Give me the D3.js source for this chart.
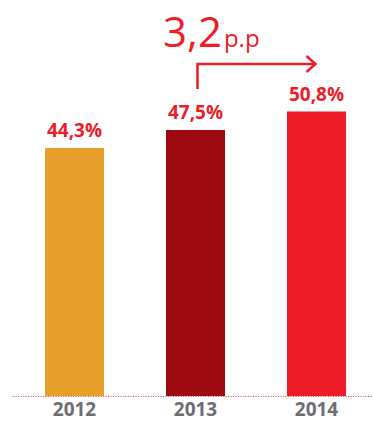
<!DOCTYPE html>
<html>
<head>
<meta charset="utf-8">
<script src="https://cdn.jsdelivr.net/npm/d3@7"></script>
<style>
  html, body { margin: 0; padding: 0; background: #fff; }
  svg { display: block; }
</style>
</head>
<body>
<svg id="chart" width="374" height="421"></svg>
<script>
// Share by year
const years = ["2012", "2013", "2014"];
const values = [44.3, 47.5, 50.8];
const valueLabels = ["44,3%", "47,5%", "50,8%"];
const barColors = ["#e59f2a", "#9d0a12", "#ed1c26"];
const changeLabel = "3,2";
const changeUnit = "p.p";

const red = "#ed1c26";
const font = "'Open Sans', 'DejaVu Sans', sans-serif";

const svg = d3.select("#chart");
const baseY = 396;

const x = d3.scaleBand()
  .domain(years)
  .range([14, 377])
  .paddingInner(0.512)
  .paddingOuter(0.256);

const y = d3.scaleLinear()
  .domain([0, 50.8])
  .range([baseY, baseY - 284.5]);

// Bars
svg.selectAll("rect.bar")
  .data(years)
  .join("rect")
  .attr("class", "bar")
  .attr("x", d => x(d))
  .attr("width", x.bandwidth())
  .attr("y", (d, i) => y(values[i]))
  .attr("height", (d, i) => baseY - y(values[i]))
  .attr("fill", (d, i) => barColors[i]);

// Value labels
svg.selectAll("text.value")
  .data(years)
  .join("text")
  .attr("class", "value")
  .attr("x", d => x(d) + x.bandwidth() / 2)
  .attr("y", (d, i) => y(values[i]) - 11)
  .attr("text-anchor", "middle")
  .attr("font-family", font)
  .attr("font-weight", 700)
  .attr("font-size", 19)
  .attr("fill", red)
  .text((d, i) => valueLabels[i]);

// Dotted baseline
svg.append("line")
  .attr("x1", 13).attr("x2", 373)
  .attr("y1", baseY + 0.5).attr("y2", baseY + 0.5)
  .attr("stroke", "#ee5560")
  .attr("stroke-width", 1)
  .attr("stroke-dasharray", "1.2,1.3");

// Year axis
const axis = svg.append("g")
  .attr("transform", `translate(0,${baseY})`)
  .call(d3.axisBottom(x).tickSize(0).tickPadding(20));
axis.select(".domain").remove();
axis.selectAll("text")
  .attr("font-family", font)
  .attr("font-weight", 700)
  .attr("font-size", 19)
  .attr("fill", "#6d6e71")
  .attr("dy", 0);

// Change arrow from 2013 to 2014
const ax0 = x("2013") + x.bandwidth() / 2 + 2;
const ax1 = x("2014") + x.bandwidth() / 2 - 1;
const arrowY = 64;
svg.append("path")
  .attr("d", `M${ax0},${y(values[1]) - 41} V${arrowY} H${ax1}`)
  .attr("fill", "none")
  .attr("stroke", red)
  .attr("stroke-width", 2.5);
svg.append("path")
  .attr("d", `M${ax1 - 9},${arrowY - 8} L${ax1},${arrowY} L${ax1 - 9},${arrowY + 8}`)
  .attr("fill", "none")
  .attr("stroke", red)
  .attr("stroke-width", 2.5);

// Change annotation
const ann = svg.append("text")
  .attr("x", 163)
  .attr("y", 47)
  .attr("font-family", font)
  .attr("fill", red);
ann.append("tspan").attr("font-size", 42).text(changeLabel);
ann.append("tspan").attr("font-size", 24).attr("dx", 2).text(changeUnit);
</script>
</body>
</html>
